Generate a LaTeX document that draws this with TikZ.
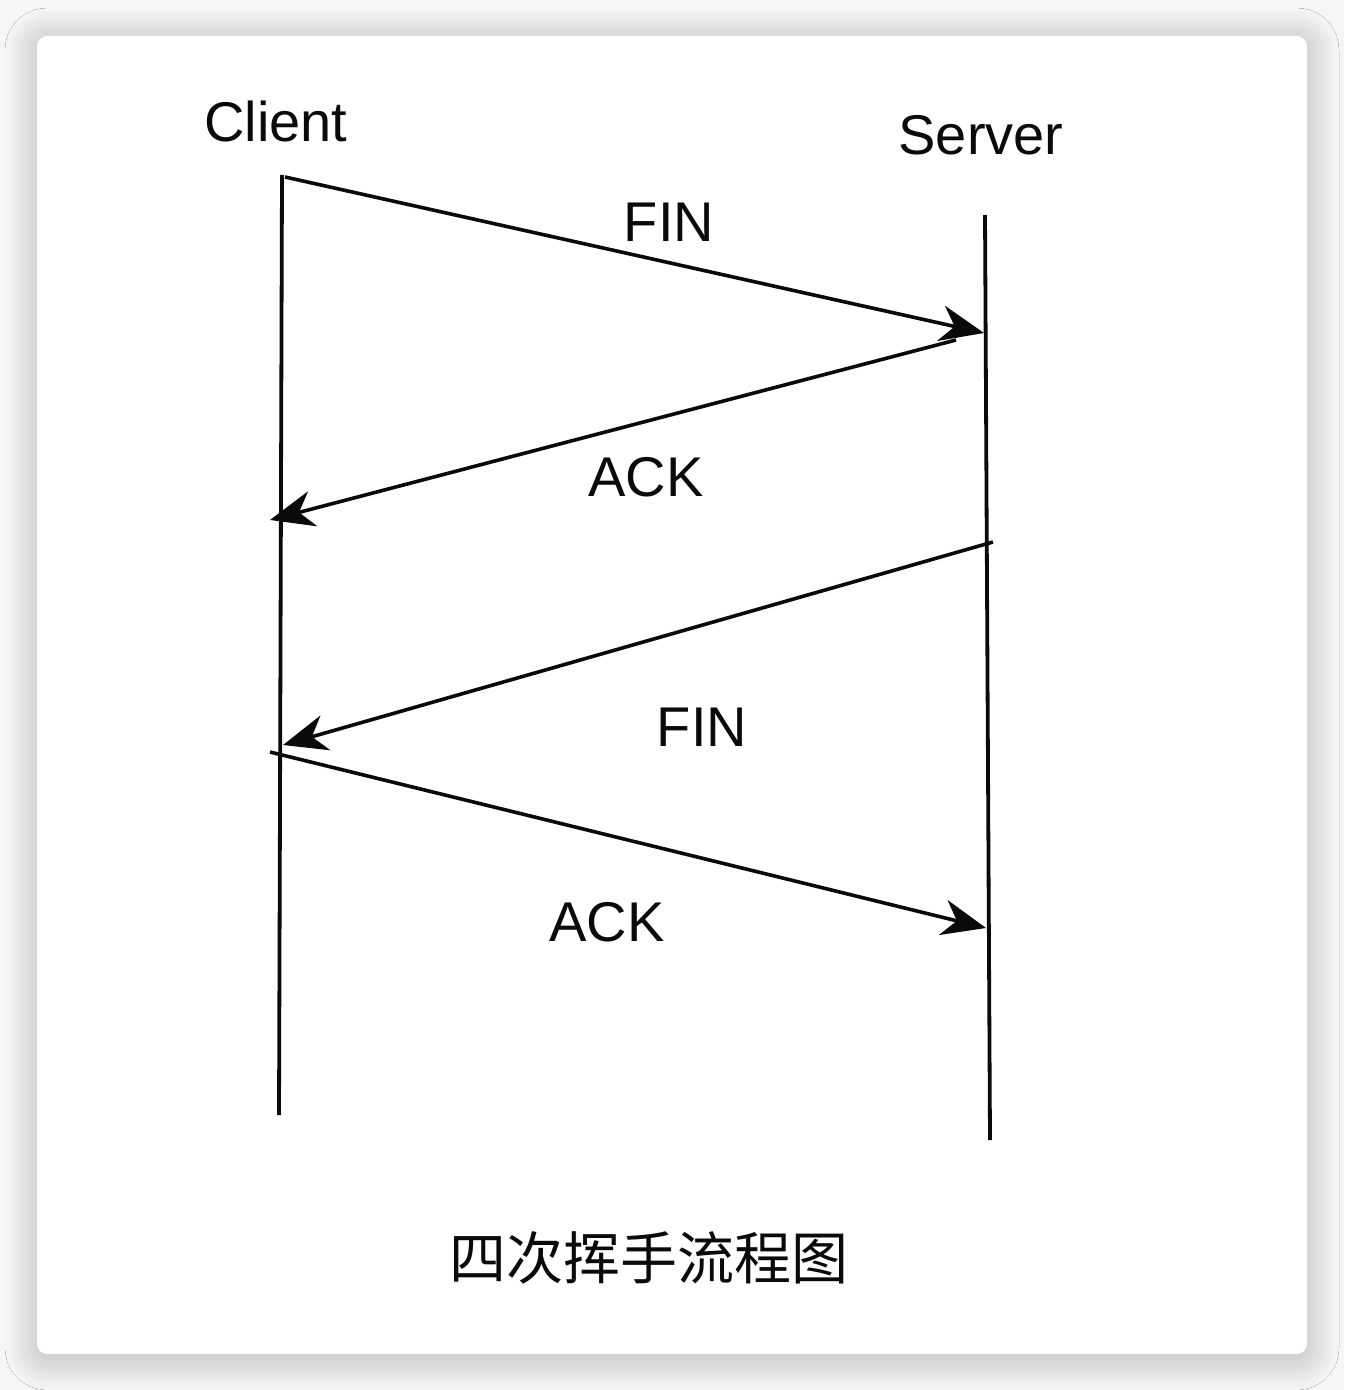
\documentclass[tikz,border=0pt]{standalone}
\usepackage{fontspec}
\setmainfont{Liberation Sans}
\newfontfamily\cjk{Noto Sans CJK SC}
\usetikzlibrary{arrows.meta,shadows.blur}
\definecolor{cPage}{RGB}{246,246,246}
\definecolor{cInk}{RGB}{10,10,10}

\tikzset{
  lifeline/.style={draw=cInk, line width=1.9pt},
  msg/.style={draw=cInk, line width=1.8pt, -{Stealth[length=22pt, width=18pt, inset=7pt]}},
  lbl/.style={font=\fontsize{28}{32}\selectfont, text=cInk, inner sep=0pt}
}

\begin{document}
\begin{tikzpicture}[x=0.5pt, y=-0.5pt]
        % page and card
        \fill[cPage] (0,0) rectangle (1344,1390);
        \useasboundingbox (0,0) rectangle (1344,1390);
        \fill[white, rounded corners=5pt, blur shadow={shadow xshift=0pt, shadow yshift=-2pt, shadow blur radius=16pt, shadow blur steps=20, shadow opacity=28}] (37,36) rectangle (1307,1354);
        % life lines
        \coordinate (cTop) at (282,175);
        \coordinate (cBot) at (279,1115);
        \coordinate (sTop) at (985,215);
        \coordinate (sBot) at (990,1140);
        \draw[lifeline] (cTop) -- (cBot);
        \draw[lifeline] (sTop) -- (sBot);
        \node[lbl] (client) at (276,121) {Client};
        \node[lbl] (server) at (981,135) {Server};
        % messages
        \coordinate (finA) at (285,177);
        \coordinate (finB) at (984,333);
        \coordinate (ackA) at (956,340);
        \coordinate (ackB) at (270,520);
        \coordinate (fin2A) at (993,542);
        \coordinate (fin2B) at (283,745);
        \coordinate (ack2A) at (270,752);
        \coordinate (ack2B) at (986,928);
        \draw[msg] (finA) -- (finB);
        \draw[msg] (ackA) -- (ackB);
        \draw[msg] (fin2A) -- (fin2B);
        \draw[msg] (ack2A) -- (ack2B);
        \node[lbl] (fin) at (669,222) {FIN};
        \node[lbl] (ack) at (646,477) {ACK};
        \node[lbl] (fin2) at (702,727) {FIN};
        \node[lbl] (ack2) at (607,922) {ACK};
        % caption
        \node[lbl, font=\cjk\fontsize{28.5}{32}\selectfont] (title) at (649,1258) {四次挥手流程图};
\end{tikzpicture}
\end{document}
